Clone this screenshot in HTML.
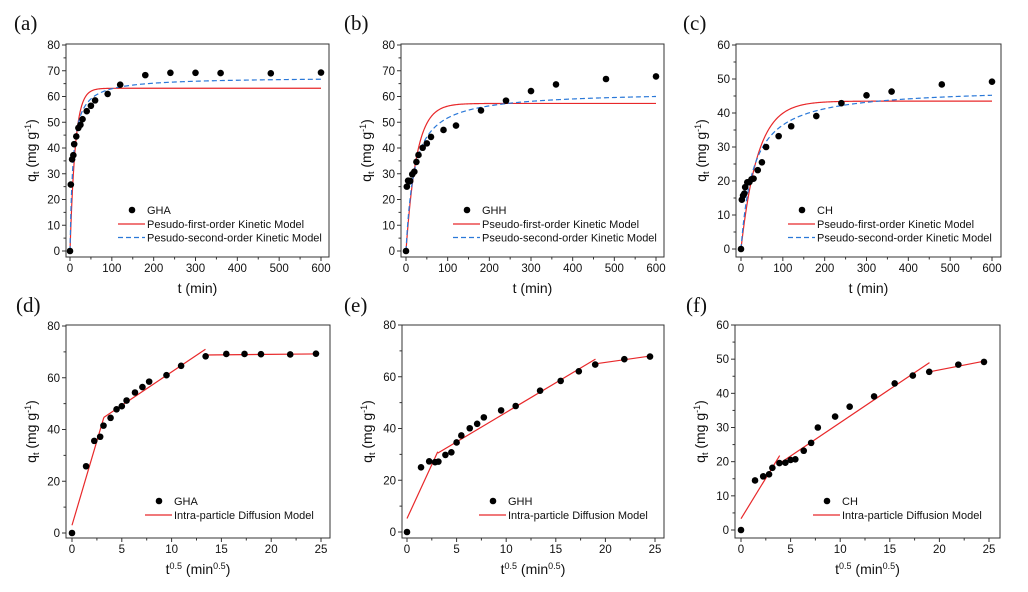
<!DOCTYPE html><html><head><meta charset="utf-8"><style>
body{margin:0;background:#fff;width:1028px;height:587px;overflow:hidden}
svg text{font-family:"Liberation Sans",Arial,sans-serif;fill:#111}
</style></head><body>
<svg id="s" width="1028" height="587" xmlns="http://www.w3.org/2000/svg"></svg>
<script>
(function(){
var S=document.getElementById('s');var h='';
var T=[0,2,5,8,10,15,20,25,30,40,50,60,90,120,180,240,300,360,480,600];
var D={GHA:[0,25.8,35.6,37.2,41.5,44.5,47.8,49,51.2,54.3,56.4,58.5,61,64.6,68.3,69.2,69.2,69.1,69,69.3],
GHH:[0,25,27.3,27,27.2,29.8,30.8,34.6,37.3,40.1,41.8,44.3,47,48.7,54.6,58.4,62.1,64.7,66.8,67.8],
CH:[0,14.5,15.7,16.3,18.2,19.6,19.7,20.5,20.7,23.2,25.5,30,33.2,36.1,39.1,42.9,45.2,46.3,48.4,49.2]};
function panel(o){
 var X=function(v){return o.x0+(v-o.xmin)/(o.xmax-o.xmin)*(o.x1-o.x0)};
 var Y=function(v){return o.y0+(v)/(o.ymax)*(o.y1-o.y0)};
 h+='<rect x="'+o.bl+'" y="'+o.bt+'" width="'+(o.br-o.bl)+'" height="'+(o.bb-o.bt)+'" fill="none" stroke="#333" stroke-width="1"/>';
 for(var v=o.xmin;v<=o.xmax+1e-9;v+=o.xs/2){var maj=Math.abs((v/o.xs)-Math.round(v/o.xs))<1e-6;var x=X(v);
  h+='<line x1="'+x+'" y1="'+o.bb+'" x2="'+x+'" y2="'+(o.bb+(maj?4:2.5))+'" stroke="#333"/>';
  if(maj)h+='<text x="'+x+'" y="'+(o.bb+15)+'" font-size="11.5" text-anchor="middle">'+v+'</text>';}
 for(var v2=0;v2<=o.ymax+1e-9;v2+=o.ys/2){var mj=Math.abs((v2/o.ys)-Math.round(v2/o.ys))<1e-6;var y=Y(v2);
  h+='<line x1="'+o.bl+'" y1="'+y+'" x2="'+(o.bl-(mj?4:2.5))+'" y2="'+y+'" stroke="#333"/>';
  if(mj)h+='<text x="'+(o.bl-6)+'" y="'+(y+4)+'" font-size="11.5" text-anchor="end">'+v2+'</text>';}
 var cx=(o.bl+o.br)/2,cy=(o.bt+o.bb)/2;
 h+='<text x="'+cx+'" y="'+(o.bb+36)+'" font-size="14" text-anchor="middle">'+o.xl+'</text>';
 h+='<text transform="translate('+(o.bl-30)+','+cy+') rotate(-90)" font-size="14" text-anchor="middle">q<tspan font-size="9" dy="3">t</tspan><tspan dy="-3"> (mg g</tspan><tspan font-size="9" dy="-5">-1</tspan><tspan dy="5">)</tspan></text>';
 h+='<text x="'+o.lx+'" y="'+o.ly+'" font-size="21" style="font-family:\'Liberation Serif\',serif">'+o.lab+'</text>';
 o.lines.forEach(function(L){h+='<polyline points="'+L.p.map(function(p){return X(p[0])+','+Y(p[1])}).join(' ')+'" fill="none" stroke="'+L.c+'" stroke-width="1.2" '+(L.d?'stroke-dasharray="5,3"':'')+'/>'});
 o.d.forEach(function(v,i){h+='<circle cx="'+X(o.xs==5?Math.sqrt(T[i]):T[i])+'" cy="'+Y(v)+'" r="3.3" fill="#000"/>'});
 h+='<circle cx="'+o.mx+'" cy="'+o.my+'" r="3.3" fill="#000"/><text x="'+(o.mx+15)+'" y="'+(o.my+4)+'" font-size="11">'+o.name+'</text>';
 o.leg.forEach(function(g,i){var y=o.my+14+i*13.5;h+='<line x1="'+(o.mx-14)+'" y1="'+y+'" x2="'+(o.mx+13)+'" y2="'+y+'" stroke="'+g.c+'" stroke-width="1.3" '+(g.d?'stroke-dasharray="5,3"':'')+'/><text x="'+(o.mx+15)+'" y="'+(y+4)+'" font-size="11">'+g.t+'</text>'});
}
function pfo(qe,k){var p=[];for(var t=0;t<=600;t+=2)p.push([t,qe*(1-Math.exp(-k*t))]);return p}
function pso(qe,kq){var p=[];for(var t=0;t<=600;t+=2)p.push([t,qe*kq*t/(1+kq*t)]);return p}
var xlT='t (min)',xlS='t<tspan font-size="9" dy="-5">0.5</tspan><tspan dy="5"> (min</tspan><tspan font-size="9" dy="-5">0.5</tspan><tspan dy="5">)</tspan>';
var R='#e8282a',B='#2a78d8';
function topPanel(n,bl,br,x0,x1,y0,y1,ymax,lab,lx,mx,qe1,k1,qe2,k2,nm){panel({bl:bl,br:br,bt:44,bb:257,x0:x0,x1:x1,y0:y0,y1:y1,xmin:0,xmax:600,xs:100,ymax:ymax,ys:10,xl:xlT,lab:lab,lx:lx,ly:30,d:D[n],name:n,mx:mx,my:210,
 lines:[{p:pfo(qe1,k1),c:R},{p:pso(qe2,k2),c:B,d:1}],leg:[{c:R,t:nm+'first-order Kinetic Model'},{c:B,d:1,t:nm+'second-order Kinetic Model'}]});}
topPanel('GHA',66,329,70,321,251,45,80,'(a)',14,132,63.2,0.08,67.5,0.14,'Pesudo-');
topPanel('GHH',401,664,406,656,251,45,80,'(b)',344,467,57.3,0.04,62,0.05,'Pseudo-');
topPanel('CH',736,1001,741,992,249,45,60,'(c)',683,802,43.5,0.025,47.5,0.033,'Pseudo-');
function botPanel(n,bl,br,x0,x1,y0,y1,ymax,ys,lab,lx,mx,segs){panel({bl:bl,br:br,bt:325,bb:538,x0:x0,x1:x1,y0:y0,y1:y1,xmin:0,xmax:25,xs:5,ymax:ymax,ys:ys,xl:xlS,lab:lab,lx:lx,ly:312,d:D[n],name:n,mx:mx,my:501,
 lines:segs.map(function(p){return {p:p,c:R}}),leg:[{c:R,t:'Intra-particle Diffusion Model'}]});}
botPanel('GHA',66,330,72,321,533,326,80,20,'(d)',16,159,[[[0,3],[3.2,44.7]],[[3.2,44.7],[13.4,71]],[[13.4,68.8],[24.5,69.2]]]);
botPanel('GHH',402,664,407,655,532,325,80,20,'(e)',344,493,[[[0,5.2],[3.1,31]],[[3.1,30.5],[19,66.8]],[[19,65],[24.5,68]]]);
botPanel('CH',735,1000,741,989,530,325,60,10,'(f)',686,827,[[[0,3.3],[3.9,21.8]],[[3.9,19.5],[19,49]],[[19,46.3],[24.5,49.4]]]);
S.innerHTML=h;
})();
</script></body></html>
